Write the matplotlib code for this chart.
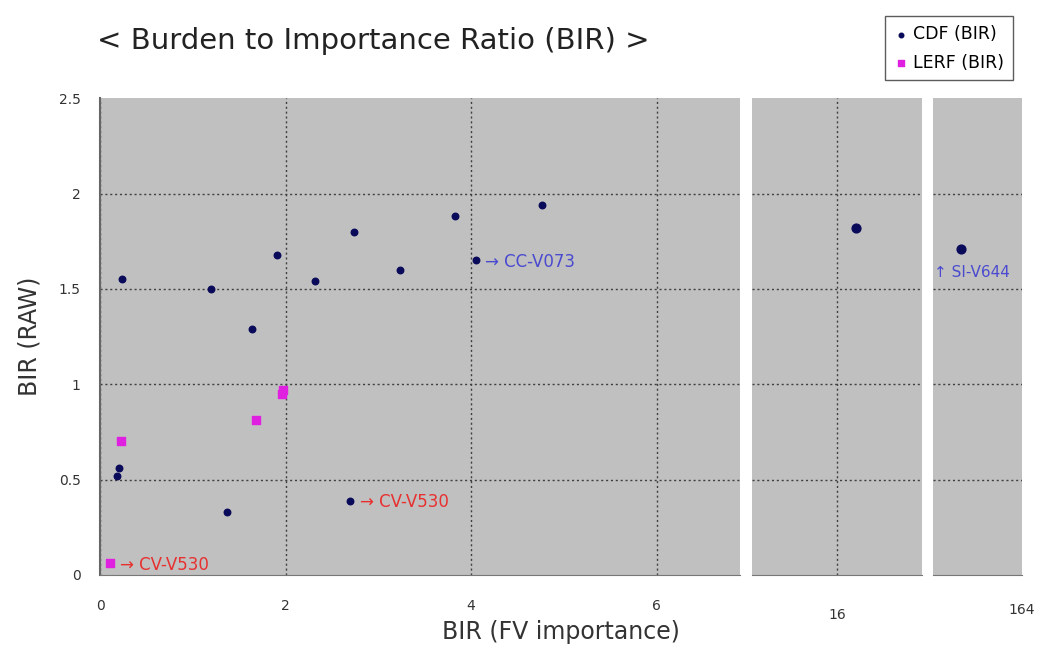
import matplotlib
matplotlib.use("Agg")
import matplotlib.pyplot as plt

# dados
cdf_x = [0.24, 1.20, 1.64, 1.91, 2.32, 2.74, 3.23, 3.83, 4.76, 4.05, 0.20, 0.18, 1.37, 2.70]
cdf_y = [1.55, 1.50, 1.29, 1.68, 1.54, 1.80, 1.60, 1.88, 1.94, 1.65, 0.56, 0.52, 0.33, 0.39]
lerf_x = [0.11, 0.23, 1.68, 1.97, 1.96]
lerf_y = [0.06, 0.70, 0.81, 0.97, 0.95]

# pontos das faixas quebradas do eixo x
cdf_mid_x = [17.1]
cdf_mid_y = [1.82]
cdf_far_x = [147.5]
cdf_far_y = [1.71]

y_ticks = [0, 0.5, 1, 1.5, 2, 2.5]
y_labels = ["0", "0.5", "1", "1.5", "2", "2.5"]

# anotacoes (texto, x, y, cor)
notas = [("→ CC-V073", 4.05, 1.65, "#4a4ad0"),
         ("→ CV-V530", 2.70, 0.39, "#e83030"),
         ("→ CV-V530", 0.11, 0.06, "#e83030")]

plt.rcParams['font.family'] = ['DejaVu Sans']

fig = plt.figure(figsize=(10.41, 6.46), dpi=100)
bottom, height = 0.110, 0.738
ax1 = fig.add_axes([0.0961, bottom, 0.6148, height])
ax2 = fig.add_axes([0.7224, bottom, 0.1633, height])
ax3 = fig.add_axes([0.8963, bottom, 0.0855, height])

navy = "#0a0a5a"
mag = "#e020e0"

for ax in (ax1, ax2, ax3):
    ax.set_facecolor("#c0c0c0")
    ax.set_ylim(0, 2.5)
    ax.set_yticks(y_ticks)
    ax.grid(True, linestyle=(0, (1.5, 2)), color="#404040", linewidth=1)
    ax.tick_params(length=0, colors="#333333", labelsize=10)
    for s in ax.spines.values():
        s.set_visible(False)
    ax.spines['bottom'].set_visible(True)
    ax.spines['bottom'].set_color("#777777")

ax1.spines['left'].set_visible(True)
ax1.spines['left'].set_color("#666666")
ax1.spines['left'].set_linewidth(1.5)

ax1.set_yticklabels(y_labels)
ax2.set_yticklabels([])
ax3.set_yticklabels([])

# painel principal
ax1.set_xlim(0, 6.9)
ax1.set_xticks([0, 2, 4, 6])
ax1.set_xticklabels(["0", "2", "4", "6"])
ax1.tick_params(axis='x', pad=17)
ax1.tick_params(axis='y', pad=14)
ax1.scatter(cdf_x, cdf_y, s=22, color=navy, marker="o", zorder=3, label="CDF (BIR)")
ax1.scatter(lerf_x, lerf_y, s=30, color=mag, marker="s", zorder=3, label="LERF (BIR)")
for txt, x, y, c in notas:
    ax1.annotate(txt, (x, y), xytext=(7, -1), textcoords="offset points",
                 color=c, fontsize=12, va="center")

# painel do meio
ax2.set_xlim(11, 21)
ax2.set_xticks([16])
ax2.set_xticklabels(["16"])
ax2.tick_params(axis='x', pad=24)
ax2.scatter(cdf_mid_x, cdf_mid_y, s=40, color=navy, zorder=3)

# painel da direita
ax3.set_xlim(140, 164)
ax3.set_xticks([164])
ax3.set_xticklabels(["164"])
ax3.tick_params(axis='x', pad=20)
ax3.xaxis.grid(False)
ax3.scatter(cdf_far_x, cdf_far_y, s=40, color=navy, zorder=3)
ax3.annotate("↑ SI-V644", (cdf_far_x[0], cdf_far_y[0]), xytext=(-19, -17),
             textcoords="offset points", color="#4a4ad0", fontsize=11, va="center", ha="left")

# sem linha de grade no topo e na base
for ax in (ax1, ax2, ax3):
    gl = ax.yaxis.get_gridlines()
    gl[0].set_visible(False)
    gl[-1].set_visible(False)

ax1.set_xlabel("BIR (FV importance)", fontsize=17, color="#333333")
ax1.xaxis.set_label_coords(0.72, -0.095)
ax1.set_ylabel("BIR (RAW)", fontsize=17, color="#333333", labelpad=12)

fig.text(0.093, 0.937, "< Burden to Importance Ratio (BIR) >", fontsize=21, color="#222222",
         va="center")

leg = fig.legend(loc="upper right", bbox_to_anchor=(0.981, 0.988), fontsize=12.5,
                 frameon=True, fancybox=False, edgecolor="#333333", handletextpad=0.3,
                 borderpad=0.5, labelspacing=0.6, handlelength=0.8, markerscale=0.7)
leg.get_frame().set_linewidth(1)

fig.savefig("out.png", dpi=100)
